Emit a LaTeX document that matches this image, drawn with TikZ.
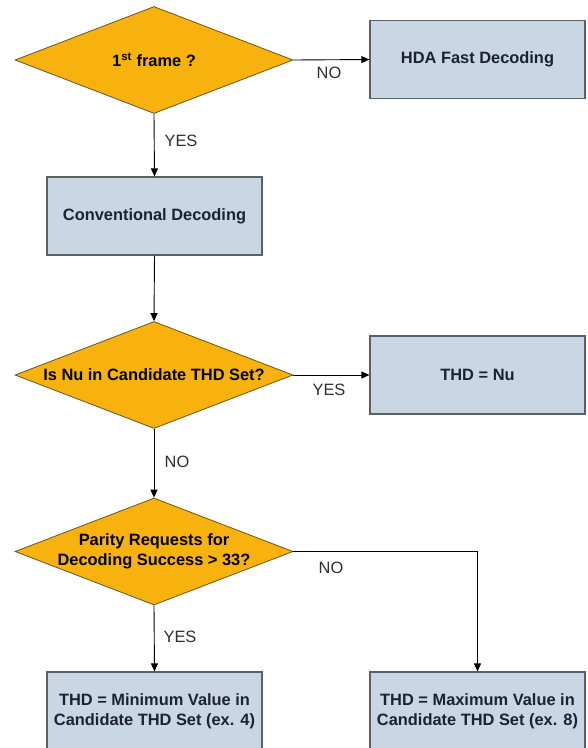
\documentclass[tikz,border=0pt]{standalone}
\usepackage{fontspec}
\setmainfont{Liberation Sans}
\usetikzlibrary{shapes.geometric,arrows.meta}
\definecolor{dfill}{HTML}{F7B20E}
\definecolor{ddraw}{HTML}{6A5420}
\definecolor{bfill}{HTML}{C9D6E4}
\definecolor{bdraw}{HTML}{5C5F63}
\definecolor{btext}{HTML}{1C2230}
\definecolor{ltext}{HTML}{2E2E2E}
\tikzset{
  dec/.style={diamond, draw=ddraw, fill=dfill, line width=0.8pt, aspect=2.6,
    minimum width=278pt, minimum height=107pt, inner sep=0pt, align=center,
    text=black, font=\fontsize{16.4}{20}\selectfont\bfseries},
  proc/.style={rectangle, draw=bdraw, fill=bfill, line width=1.2pt,
    minimum width=215pt, minimum height=78pt, inner sep=0pt, align=center,
    text=btext, font=\fontsize{16.4}{20}\selectfont\bfseries},
  lab/.style={text=ltext, font=\fontsize{16.4}{20}\selectfont, inner sep=0pt},
  conn/.style={draw=black, line width=0.9pt, -{Triangle[length=8pt,width=7pt]}},
}
\begin{document}
\begin{tikzpicture}[x=1pt,y=-1pt]
\clip (0,0) rectangle (588,748);
\useasboundingbox (0,0) rectangle (588,748);
\fill[white] (0,0) rectangle (588,748);
\node[dec] (d1) at (154,60) {1\textsuperscript{st} frame ?};
\node[proc] (hda) at (477.5,59.5) {HDA Fast Decoding};
\node[proc] (conv) at (154.5,216) {Conventional Decoding};
\node[dec] (d2) at (154,375) {Is Nu in Candidate THD Set?};
\node[proc] (nu) at (477.5,375) {THD = Nu};
\node[dec, inner sep=-4pt] (d3) at (154,551.5) {Parity Requests for\\Decoding Success > 33?};
\node[proc] (minb) at (154.5,711) {THD = Minimum Value in\\Candidate THD Set (ex. 4)};
\node[proc] (maxb) at (477.5,711) {THD = Maximum Value in\\Candidate THD Set (ex. 8)};
\draw[conn] (d1.east) -- (hda.west);
\draw[conn] (d1.south) -- (conv.north);
\draw[conn] (conv.south) -- (d2.north);
\draw[conn] (d2.east) -- (nu.west);
\draw[conn] (d2.south) -- (d3.north);
\draw[conn] (d3.south) -- (minb.north);
\draw[conn] (d3.east) -| (maxb.north);
\node[lab] (l1) at (329,73) {NO};
\node[lab] (l2) at (181,141) {YES};
\node[lab] (l3) at (329,390) {YES};
\node[lab] (l4) at (177,462) {NO};
\node[lab] (l5) at (180,637) {YES};
\node[lab] (l6) at (331,568) {NO};
\end{tikzpicture}
\end{document}
